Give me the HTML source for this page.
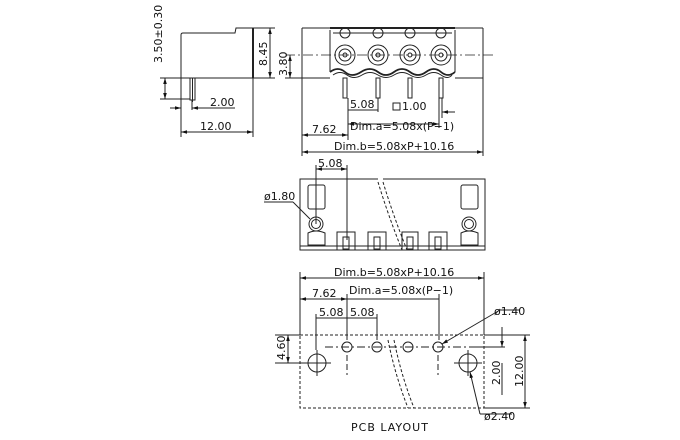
<!DOCTYPE html>
<html><head><meta charset="utf-8"><style>
html,body{margin:0;padding:0;background:#fff;}
svg{display:block;}
text{font-family:"DejaVu Sans","Liberation Sans",sans-serif;font-size:11px;fill:#111;}
</style></head><body>
<svg width="680" height="440" viewBox="0 0 680 440" xmlns="http://www.w3.org/2000/svg">
<defs>
<marker id="a" viewBox="0 0 10 10" refX="10" refY="5" markerWidth="6" markerHeight="6" orient="auto-start-reverse"><path d="M0,2 L10,5 L0,8 z" fill="#111"/></marker>
</defs>
<g stroke="#222" stroke-width="1" fill="none">
<!-- side view -->
<path d="M181,78 L181,35 Q181,33 183,33 L235,33 L236,28 L253,28 L253,78 Z"/>
<line x1="253" y1="28" x2="253" y2="78" stroke-width="2"/>
<rect x="190" y="78" width="5" height="22" />
<line x1="192.5" y1="78" x2="192.5" y2="102"/>
<line x1="160" y1="78" x2="275" y2="78"/>
<line x1="160" y1="99" x2="190" y2="99"/>
<line x1="165" y1="78" x2="165" y2="99" marker-start="url(#a)" marker-end="url(#a)"/>
<line x1="253" y1="28" x2="275" y2="28"/>
<line x1="270" y1="28" x2="270" y2="78" marker-start="url(#a)" marker-end="url(#a)"/>
<line x1="170" y1="108" x2="181" y2="108" marker-end="url(#a)"/>
<line x1="192" y1="108" x2="235" y2="108" marker-start="url(#a)"/>
<line x1="192" y1="100" x2="192" y2="110"/>
<line x1="181" y1="78" x2="181" y2="137"/>
<line x1="253" y1="78" x2="253" y2="137"/>
<line x1="181" y1="132" x2="253" y2="132" marker-start="url(#a)" marker-end="url(#a)"/>
<!-- front view -->
<line x1="302" y1="28" x2="302" y2="156"/>
<line x1="483" y1="28" x2="483" y2="156"/>
<line x1="302" y1="28" x2="483" y2="28"/>
<line x1="330" y1="28" x2="455" y2="28" stroke-width="2"/>
<line x1="330" y1="30" x2="330" y2="72"/>
<line x1="455" y1="30" x2="455" y2="72"/>
<line x1="333" y1="33" x2="452" y2="33"/>
<path d="M330,72 Q338,66 345,72 T361,72 T378,72 T394,72 T410,72 T426,72 T441,72 T455,72" stroke-width="1.8"/>
<path d="M333,75 Q340,70 347,75 T362,75 T378,75 T394,75 T410,75 T426,75 T441,75 T452,75"/>
<g>
<circle cx="345" cy="55" r="10"/><circle cx="345" cy="55" r="6"/><circle cx="345" cy="55" r="2"/><circle cx="345" cy="33" r="5"/>
<circle cx="378" cy="55" r="10"/><circle cx="378" cy="55" r="6"/><circle cx="378" cy="55" r="2"/><circle cx="378" cy="33" r="5"/>
<circle cx="410" cy="55" r="10"/><circle cx="410" cy="55" r="6"/><circle cx="410" cy="55" r="2"/><circle cx="410" cy="33" r="5"/>
<circle cx="441" cy="55" r="10"/><circle cx="441" cy="55" r="6"/><circle cx="441" cy="55" r="2"/><circle cx="441" cy="33" r="5"/>
</g>
<rect x="343" y="78" width="4" height="20"/><rect x="376" y="78" width="4" height="20"/><rect x="408" y="78" width="4" height="20"/><rect x="439" y="78" width="4" height="20"/>
<line x1="285" y1="55" x2="495" y2="55" stroke-dasharray="10,3,2,3" stroke-width="0.8"/>
<line x1="285" y1="78" x2="330" y2="78"/>
<line x1="455" y1="78" x2="483" y2="78"/>
<line x1="290" y1="55" x2="290" y2="78" marker-start="url(#a)" marker-end="url(#a)"/>
<line x1="348" y1="98" x2="348" y2="140"/>
<line x1="378" y1="98" x2="378" y2="112"/>
<line x1="439" y1="98" x2="439" y2="128"/>
<line x1="442" y1="98" x2="442" y2="118"/>
<line x1="348" y1="110" x2="378" y2="110"/>
<line x1="442" y1="112" x2="455" y2="112" marker-start="url(#a)"/>
<line x1="348" y1="124" x2="439" y2="124" marker-start="url(#a)" marker-end="url(#a)"/>
<line x1="302" y1="135" x2="348" y2="135" marker-start="url(#a)" marker-end="url(#a)"/>
<line x1="302" y1="152" x2="483" y2="152" marker-start="url(#a)" marker-end="url(#a)"/>
<rect x="393" y="103" width="7" height="7"/>
<!-- middle view -->
<path d="M378,179 L300,179 L300,250 L485,250 L485,179 L383,179"/>
<line x1="300" y1="246" x2="485" y2="246"/>
<path d="M378,182 Q388,215 402,250" stroke-dasharray="3,2"/>
<path d="M383,182 Q393,215 407,250" stroke-dasharray="3,2"/>
<rect x="308" y="185" width="17" height="24" rx="2"/>
<circle cx="316" cy="224" r="7"/><circle cx="316" cy="224" r="4.5"/>
<path d="M308,233 Q316,229 325,233 L325,245 L308,245 Z"/>
<rect x="461" y="185" width="17" height="24" rx="2"/>
<circle cx="469" cy="224" r="7"/><circle cx="469" cy="224" r="4.5"/>
<path d="M461,233 Q469,229 478,233 L478,245 L461,245 Z"/>
<rect x="337" y="232" width="18" height="18"/><rect x="343" y="237" width="6" height="12"/>
<rect x="368" y="232" width="18" height="18"/><rect x="374" y="237" width="6" height="12"/>
<rect x="402" y="232" width="16" height="18"/><rect x="407" y="237" width="6" height="12"/>
<rect x="429" y="232" width="18" height="18"/><rect x="435" y="237" width="6" height="12"/>
<line x1="316" y1="165" x2="316" y2="224"/>
<line x1="347" y1="165" x2="347" y2="240"/>
<line x1="316" y1="169" x2="347" y2="169" marker-start="url(#a)" marker-end="url(#a)"/>
<line x1="264" y1="202" x2="293" y2="202"/>
<line x1="293" y1="202" x2="310" y2="219"/>
<!-- PCB layout -->
<line x1="300" y1="272" x2="300" y2="335"/>
<line x1="484" y1="272" x2="484" y2="335"/>
<line x1="300" y1="278" x2="484" y2="278" marker-start="url(#a)" marker-end="url(#a)"/>
<line x1="347" y1="294" x2="347" y2="340"/>
<line x1="439" y1="294" x2="439" y2="340"/>
<line x1="300" y1="299" x2="347" y2="299" marker-start="url(#a)" marker-end="url(#a)"/>
<line x1="347" y1="299" x2="439" y2="299"/>
<line x1="316" y1="314" x2="316" y2="350"/>
<line x1="377" y1="314" x2="377" y2="340"/>
<line x1="316" y1="318" x2="377" y2="318"/>
<rect x="300" y="335" width="184" height="73" stroke-dasharray="3,2"/>
<line x1="325" y1="347" x2="500" y2="347" stroke-dasharray="8,3,2,3"/>
<circle cx="347" cy="347" r="5"/><circle cx="377" cy="347" r="5"/><circle cx="408" cy="347" r="5"/><circle cx="438" cy="347" r="5"/>
<line x1="347" y1="355" x2="347" y2="375" stroke-dasharray="6,3"/>
<line x1="438" y1="355" x2="438" y2="375" stroke-dasharray="6,3"/>
<circle cx="317" cy="363" r="9"/><circle cx="468" cy="363" r="9"/>
<line x1="303" y1="363" x2="331" y2="363"/><line x1="317" y1="350" x2="317" y2="376"/>
<line x1="454" y1="363" x2="482" y2="363"/><line x1="468" y1="350" x2="468" y2="376"/>
<path d="M388,340 Q395,375 408,408" stroke-dasharray="3,2"/>
<path d="M394,340 Q401,375 414,408" stroke-dasharray="3,2"/>
<line x1="275" y1="335" x2="300" y2="335"/>
<line x1="275" y1="363" x2="303" y2="363"/>
<line x1="288" y1="335" x2="288" y2="363" marker-start="url(#a)" marker-end="url(#a)"/>
<line x1="484" y1="335" x2="530" y2="335"/>
<line x1="484" y1="408" x2="530" y2="408"/>
<line x1="470" y1="347" x2="505" y2="347"/>
<line x1="502" y1="327" x2="502" y2="347" marker-end="url(#a)"/>
<line x1="502" y1="363" x2="502" y2="395" />
<line x1="525" y1="335" x2="525" y2="408" marker-start="url(#a)" marker-end="url(#a)"/>
<line x1="500" y1="310" x2="520" y2="310"/>
<line x1="500" y1="310" x2="442" y2="344" marker-end="url(#a)"/>
<line x1="480" y1="414" x2="512" y2="414"/>
<line x1="480" y1="414" x2="470" y2="372" marker-end="url(#a)"/>
</g>
<g>
<text x="0" y="0" transform="translate(162,63) rotate(-90)">3.50±0.30</text>
<text x="0" y="0" transform="translate(267,66) rotate(-90)">8.45</text>
<text x="0" y="0" transform="translate(287,76) rotate(-90)">3.80</text>
<text x="210" y="106">2.00</text>
<text x="200" y="130">12.00</text>
<text x="350" y="108">5.08</text>
<text x="402" y="110">1.00</text>
<text x="350" y="130">Dim.a=5.08x(P−1)</text>
<text x="312" y="133">7.62</text>
<text x="334" y="150">Dim.b=5.08xP+10.16</text>
<text x="318" y="167">5.08</text>
<text x="264" y="200">ø1.80</text>
<text x="334" y="276">Dim.b=5.08xP+10.16</text>
<text x="312" y="297">7.62</text>
<text x="349" y="294">Dim.a=5.08x(P−1)</text>
<text x="319" y="316">5.08</text>
<text x="350" y="316">5.08</text>
<text x="494" y="315">ø1.40</text>
<text x="484" y="420">ø2.40</text>
<text x="0" y="0" transform="translate(285,360) rotate(-90)">4.60</text>
<text x="0" y="0" transform="translate(500,385) rotate(-90)">2.00</text>
<text x="0" y="0" transform="translate(523,387) rotate(-90)">12.00</text>
<text x="351" y="431" style="letter-spacing:1px">PCB LAYOUT</text>
</g>
</svg>
</body></html>
